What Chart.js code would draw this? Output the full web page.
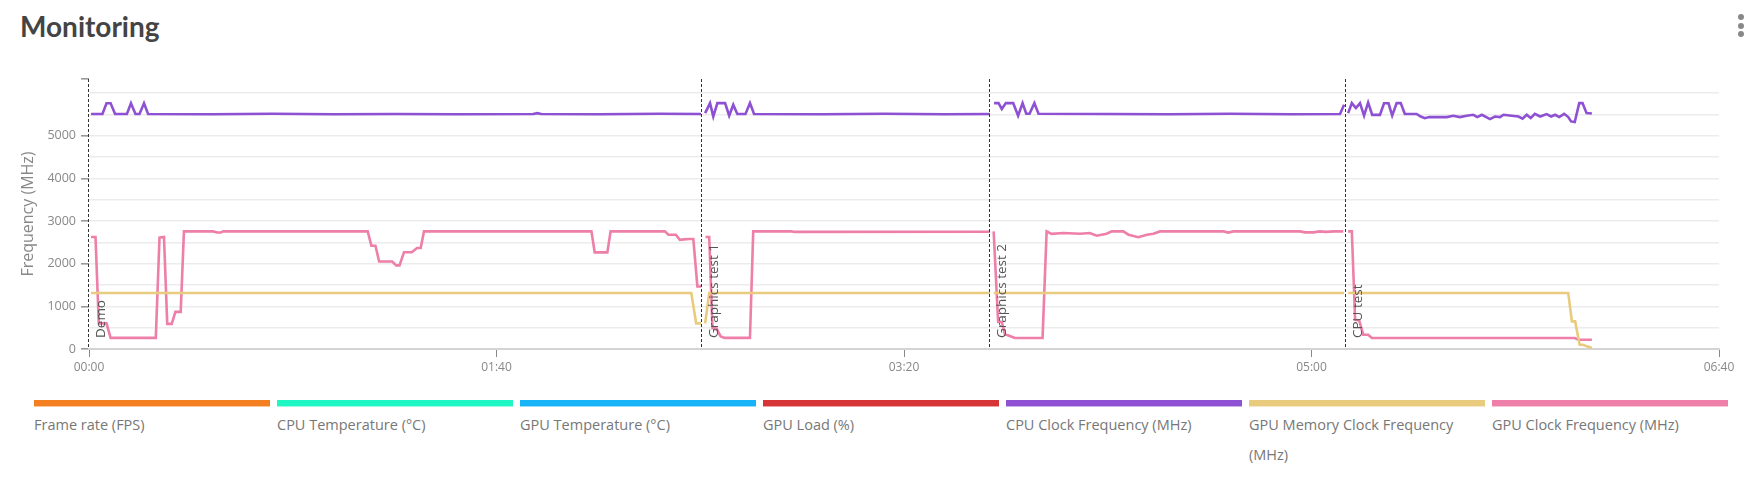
<!DOCTYPE html>
<html lang="en">
<head>
<meta charset="UTF-8">
<title>Monitoring</title>
<script src="https://cdn.jsdelivr.net/npm/chart.js"></script>
<style>
  body { margin: 0; background: #fff; font-family: 'Open Sans', sans-serif; }
  #wrap { position: relative; width: 1761px; height: 481px; overflow: hidden; }
  h1 { position: absolute; left: 20px; top: 12px; margin: 0; font: 700 28px/28px Lato, sans-serif; color: #444; }
  .menu { position: absolute; left: 1738px; top: 14px; width: 6px; }
  .menu span { display: block; width: 6px; height: 6px; border-radius: 50%; background: #888; margin-bottom: 2.5px; }
  #box { position: absolute; left: 0; top: 60px; width: 1761px; height: 330px; }
  #legend { position: absolute; left: 34px; top: 400px; display: flex; gap: 7px; }
  .item { width: 236px; }
  .bar { height: 6px; }
  .bar2 { height: 1px; opacity: .45; }
  .lbl { margin-top: 3px; font-size: 14.5px; line-height: 30px; color: #777; }
</style>
</head>
<body>
<div id="wrap">
  <h1>Monitoring</h1>
  <div class="menu"><span></span><span></span><span></span></div>
  <div id="box"><canvas id="myChart"></canvas></div>
  <div id="legend"></div>
</div>
<script>
// test markers (seconds)
const markerTimes = [0, 150.5, 221.2, 308.4];
const markerNames = ['Demo', 'Graphics test 1', 'Graphics test 2', 'CPU test'];

// x axis in seconds, ticks every 100 s
const xTicks = [0, 100, 200, 300, 400];
// y labels every 1000, grid every 500
const yLabels = [0, 1000, 2000, 3000, 4000, 5000];
const yMax = 6330;

// CPU Clock Frequency (MHz)  - null = break between tests
const cpuTime = [0.5, 3.3, 4.3, 5.3, 6.4, 9.3, 10.3, 11.4, 12.4, 13.5, 14.5, 30, 45, 60, 75, 90, 109, 110, 111, 125, 140, 150.2,
  150.8,
  151.2, 152.4, 153.2, 154.2, 156.1, 157.1, 158.1, 159.1, 161.1, 162.2, 163.2, 180, 195, 210, 221.1,
  221.6,
  222.1, 223.2, 224, 225, 226.8, 228, 229.1, 230, 230.8, 232, 233, 250, 265, 280, 295, 307, 308,
  308.5,
  309, 309.9, 310.9, 311.9, 312.9, 313.9, 314.9, 316.8, 317.8, 318.9, 319.8, 320.9, 321.9, 322.9, 325.8, 326.8, 327.8, 328.9,
  331.5, 333.2, 334.8, 336.4, 338.1, 339.7, 340.7, 341.8, 343.8, 345, 346.3, 347.1, 349.1, 350.8, 351.8, 352.8, 353.8, 354.8,
  356.1, 357.7, 358.8, 359.8, 360.8, 362, 363, 363.7, 364.6, 365.7, 366.5, 367.5, 368.8];
const cpuMHz = [5510, 5510, 5760, 5760, 5510, 5510, 5760, 5510, 5510, 5760, 5510, 5505, 5515, 5505, 5510, 5505, 5510, 5530, 5510, 5505, 5515, 5510,
  null,
  5530, 5765, 5450, 5765, 5765, 5470, 5725, 5510, 5510, 5765, 5510, 5505, 5515, 5505, 5510,
  null,
  5765, 5765, 5625, 5765, 5765, 5470, 5765, 5515, 5515, 5765, 5515, 5510, 5505, 5515, 5505, 5510, 5725,
  null,
  5530, 5765, 5650, 5765, 5470, 5780, 5490, 5490, 5760, 5760, 5470, 5765, 5765, 5510, 5510, 5450, 5410, 5440,
  5437, 5437, 5468, 5437, 5468, 5491, 5437, 5491, 5390, 5451, 5437, 5491, 5468, 5451, 5398, 5491, 5414, 5514,
  5451, 5507, 5451, 5491, 5437, 5514, 5437, 5335, 5320, 5765, 5765, 5530, 5520];

// GPU Memory Clock Frequency (MHz)
const memTime = [0.5, 147.8, 149, 150.2, 150.8, 151.2, 152.2, 221.1, 221.6, 222, 308, 308.5, 309, 363, 363.9, 364.7, 365.8, 366.6, 367.6, 368.8];
const memMHz = [1313, 1313, 600, 600, null, 600, 1313, 1313, null, 1313, 1313, null, 1313, 1313, 647, 647, 100, 100, 62, 25];

// GPU Clock Frequency (MHz)
const gpuTime = [0.5, 1.6, 2.4, 4.3, 5.3, 16.4, 17.3, 18.4, 19.2, 20.3, 21.2, 22.5, 23.3, 30.5, 31.4, 32.3, 33, 68.4, 69.3, 70.3,
  71.2, 74.4, 75.4, 76.2, 77.3, 79.2, 80.5, 81.4, 82.2, 123.3, 124.1, 127.2, 128, 141.3, 142.2, 144, 145, 146, 147.3, 148.3, 149.3, 150.2,
  150.8,
  151.3, 152.2, 153, 154, 155, 156, 162.2, 163, 172.4, 173.2, 221.1,
  221.6,
  222, 223.1, 224, 224.8, 225.5, 227.2, 234, 235, 236.2, 239.1, 243.2, 245.6, 247.3, 249.7, 251, 253.8, 255.1, 257.5, 259.6, 261.2,
  262.8, 278.4, 279.6, 280.8, 297.2, 298.4, 300.5, 302, 303.5, 305.5, 307.8,
  308.5,
  309, 309.9, 310.7, 311.7, 312.7, 313.9, 314.8, 364.6, 365.5, 368.8];
const gpuMHz = [2625, 2625, 600, 600, 260, 260, 2610, 2625, 590, 590, 870, 870, 2757, 2757, 2730, 2730, 2757, 2757, 2420, 2420,
  2050, 2050, 1960, 1960, 2270, 2270, 2367, 2367, 2757, 2757, 2265, 2265, 2757, 2757, 2680, 2680, 2560, 2570, 2580, 2580, 1467, 1467,
  null,
  2625, 2625, 490, 480, 296, 260, 260, 2757, 2757, 2745, 2750,
  null,
  2757, 633, 633, 335, 320, 258, 258, 2757, 2700, 2718, 2702, 2718, 2655, 2702, 2757, 2757, 2680, 2620, 2680, 2702,
  2757, 2757, 2730, 2757, 2757, 2735, 2735, 2757, 2745, 2757, 2757,
  null,
  2757, 2757, 686, 670, 335, 335, 258, 258, 218, 218];

// series without samples in this run (shown in legend only)
const fpsValues = [];
const cpuTempValues = [];
const gpuTempValues = [];
const gpuLoadValues = [];

function pts(times, values) {
  return times.map((t, i) => ({ x: t, y: values[i] }));
}

function mmss(v) {
  return String(Math.floor(v / 60)).padStart(2, '0') + ':' + String(v % 60).padStart(2, '0');
}

// dashed test markers + rotated names
const markerPlugin = {
  id: 'markers',
  afterDatasetsDraw(chart) {
    const ctx = chart.ctx, area = chart.chartArea, xs = chart.scales.x;
    ctx.save();
    markerTimes.forEach((t, i) => {
      const x = Math.round(xs.getPixelForValue(t)) - 0.5;
      ctx.strokeStyle = '#333';
      ctx.lineWidth = 1;
      ctx.setLineDash([3, 2]);
      ctx.beginPath();
      ctx.moveTo(x, area.top);
      ctx.lineTo(x, area.bottom);
      ctx.stroke();
      ctx.save();
      ctx.translate(x + 16, area.bottom - 11);
      ctx.rotate(-Math.PI / 2);
      ctx.fillStyle = '#555';
      ctx.font = '13.5px "Open Sans"';
      ctx.textAlign = 'left';
      ctx.textBaseline = 'alphabetic';
      ctx.fillText(markerNames[i], 0, 0);
      ctx.restore();
    });
    ctx.restore();
  }
};

Chart.defaults.font.family = "'Open Sans', sans-serif";
Chart.defaults.color = '#888';

const ctx = document.getElementById('myChart');
const configs = {
  type: 'line',
  data: {
    datasets: [
      { label: 'Frame rate (FPS)', data: fpsValues, borderColor: '#f47f20' },
      { label: 'CPU Temperature (°C)', data: cpuTempValues, borderColor: '#1ef7c3' },
      { label: 'GPU Temperature (°C)', data: gpuTempValues, borderColor: '#17b3f7' },
      { label: 'GPU Load (%)', data: gpuLoadValues, borderColor: '#d63436' },
      { label: 'CPU Clock Frequency (MHz)', data: pts(cpuTime, cpuMHz), borderColor: '#8e51d3' },
      { label: 'GPU Memory Clock Frequency (MHz)', data: pts(memTime, memMHz), borderColor: '#e9cb7d' },
      { label: 'GPU Clock Frequency (MHz)', data: pts(gpuTime, gpuMHz), borderColor: '#ed7fa8' }
    ]
  },
  options: {
    responsive: true,
    maintainAspectRatio: false,
    animation: false,
    spanGaps: false,
    layout: { padding: { left: 0, right: 42, top: 19, bottom: 0 } },
    elements: {
      line: { borderWidth: 2.6, tension: 0 },
      point: { radius: 0 }
    },
    plugins: { legend: { display: false }, tooltip: { enabled: false } },
    scales: {
      x: {
        type: 'linear',
        min: xTicks[0],
        max: xTicks[xTicks.length - 1],
        afterBuildTicks(scale) { scale.ticks = xTicks.map(v => ({ value: v })); },
        afterFit(scale) { scale.height = 41; },
        ticks: { callback: v => mmss(v), font: { size: 12 }, color: '#888', padding: 3, maxRotation: 0 },
        grid: { drawOnChartArea: false, drawTicks: true, tickLength: 8, tickColor: '#888', tickWidth: 1 },
        border: { display: true, color: '#d4d4d4', width: 2 }
      },
      y: {
        min: 0,
        max: yMax,
        afterBuildTicks(scale) {
          const t = [];
          for (let v = 0; v <= 6000; v += 500) t.push({ value: v });
          t.push({ value: yMax });
          scale.ticks = t;
        },
        afterFit(scale) { scale.width = 89; },
        ticks: {
          autoSkip: false,
          padding: 5,
          font: { size: 12.5 },
          color: '#888',
          callback: v => (yLabels.includes(v) ? v : '')
        },
        grid: {
          color: c => (c.tick && c.tick.value === yMax ? 'transparent' : '#ececec'),
          lineWidth: 1.6,
          tickLength: 8,
          tickColor: c => (c.tick && (yLabels.includes(c.tick.value) || c.tick.value === yMax) ? '#999' : 'transparent')
        },
        border: { display: false },
        title: {
          display: true,
          text: 'Frequency (MHz)',
          color: '#888',
          font: { size: 16 },
          padding: { top: 19, bottom: 0 }
        }
      }
    }
  },
  plugins: [markerPlugin]
};
const myChart = new Chart(ctx, configs);

// legend: colour bar above each name
const lg = document.getElementById('legend');
myChart.data.datasets.forEach(ds => {
  lg.innerHTML += `<div class="item"><div class="bar" style="background:${ds.borderColor}"></div>` +
    `<div class="bar2" style="background:${ds.borderColor}"></div><div class="lbl">${ds.label}</div></div>`;
});
</script>
</body>
</html>
